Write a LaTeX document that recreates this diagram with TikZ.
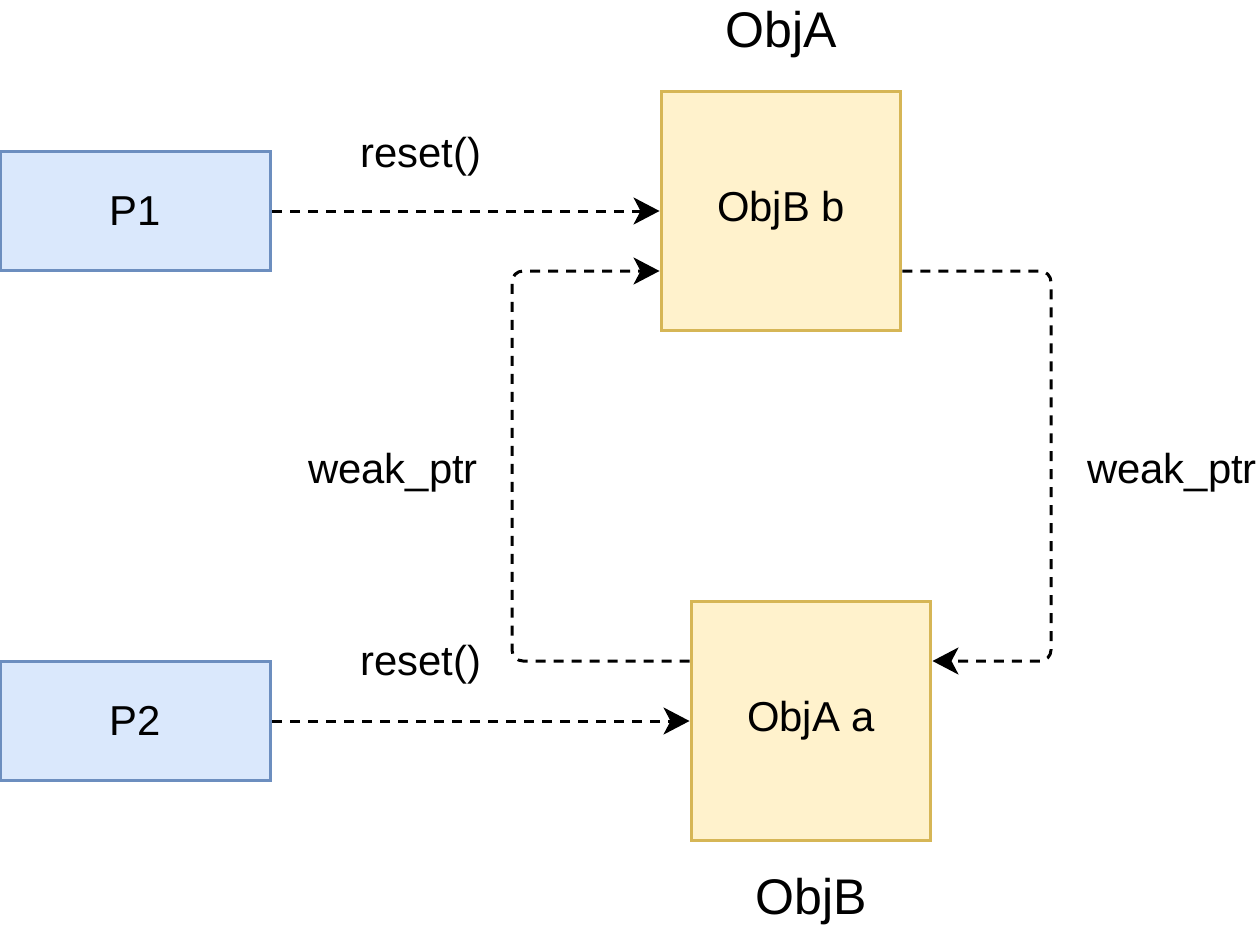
\documentclass[tikz,border=0pt]{standalone}
\usepackage{fontspec}
\setmainfont{Liberation Sans}
\usetikzlibrary{arrows.meta}
\definecolor{pfill}{HTML}{DAE8FC}
\definecolor{pdraw}{HTML}{6C8EBF}
\definecolor{ofill}{HTML}{FFF2CC}
\definecolor{odraw}{HTML}{D6B656}
\tikzset{
  pbox/.style={draw=pdraw,fill=pfill,line width=0.06cm,minimum width=5.42cm,minimum height=2.4cm,inner sep=0pt,font=\fontsize{23.8}{28}\selectfont},
  obox/.style={draw=odraw,fill=ofill,line width=0.06cm,minimum width=4.8cm,minimum height=4.8cm,inner sep=0pt,font=\fontsize{23.8}{28}\selectfont},
  lbl/.style={inner sep=0pt,font=\fontsize{23.8}{28}\selectfont},
  title/.style={inner sep=0pt,font=\fontsize{28.5}{33}\selectfont},
  conn/.style={line width=0.06cm,dash pattern=on 0.2cm off 0.16cm,-{Stealth[length=0.52cm,width=0.54cm,inset=0.14cm]},rounded corners=0.22cm}
}
\begin{document}
\begin{tikzpicture}[x=0.02cm,y=-0.02cm]
\useasboundingbox (0,0) rectangle (1257,933);
\node[pbox] (p1) at (135.5,211) {P1};
\node[pbox] (p2) at (135.5,721) {P2};
\node[obox] (ob) at (781,211) {ObjB b};
\node[obox] (oa) at (811,721) {ObjA a};
\node[title] (tA) at (781,35) {ObjA};
\node[title] (tB) at (811,902) {ObjB};
\node[lbl] (r1) at (421,157) {reset()};
\node[lbl] (r2) at (421,665) {reset()};
\node[lbl] (w1) at (393,473) {weak\_ptr};
\node[lbl] (w2) at (1172,473) {weak\_ptr};
\coordinate (c1) at (512,661);
\coordinate (c2) at (512,271);
\coordinate (c3) at (1051,271);
\coordinate (c4) at (1051,661);
\draw[conn] (p1.east) -- (ob.west);
\draw[conn] (p2.east) -- (oa.west);
\draw[conn] (oa.west |- c1) -- (c1) -- (c2) -- (ob.west |- c2);
\draw[conn] (ob.east |- c3) -- (c3) -- (c4) -- (oa.east |- c4);
\end{tikzpicture}
\end{document}
